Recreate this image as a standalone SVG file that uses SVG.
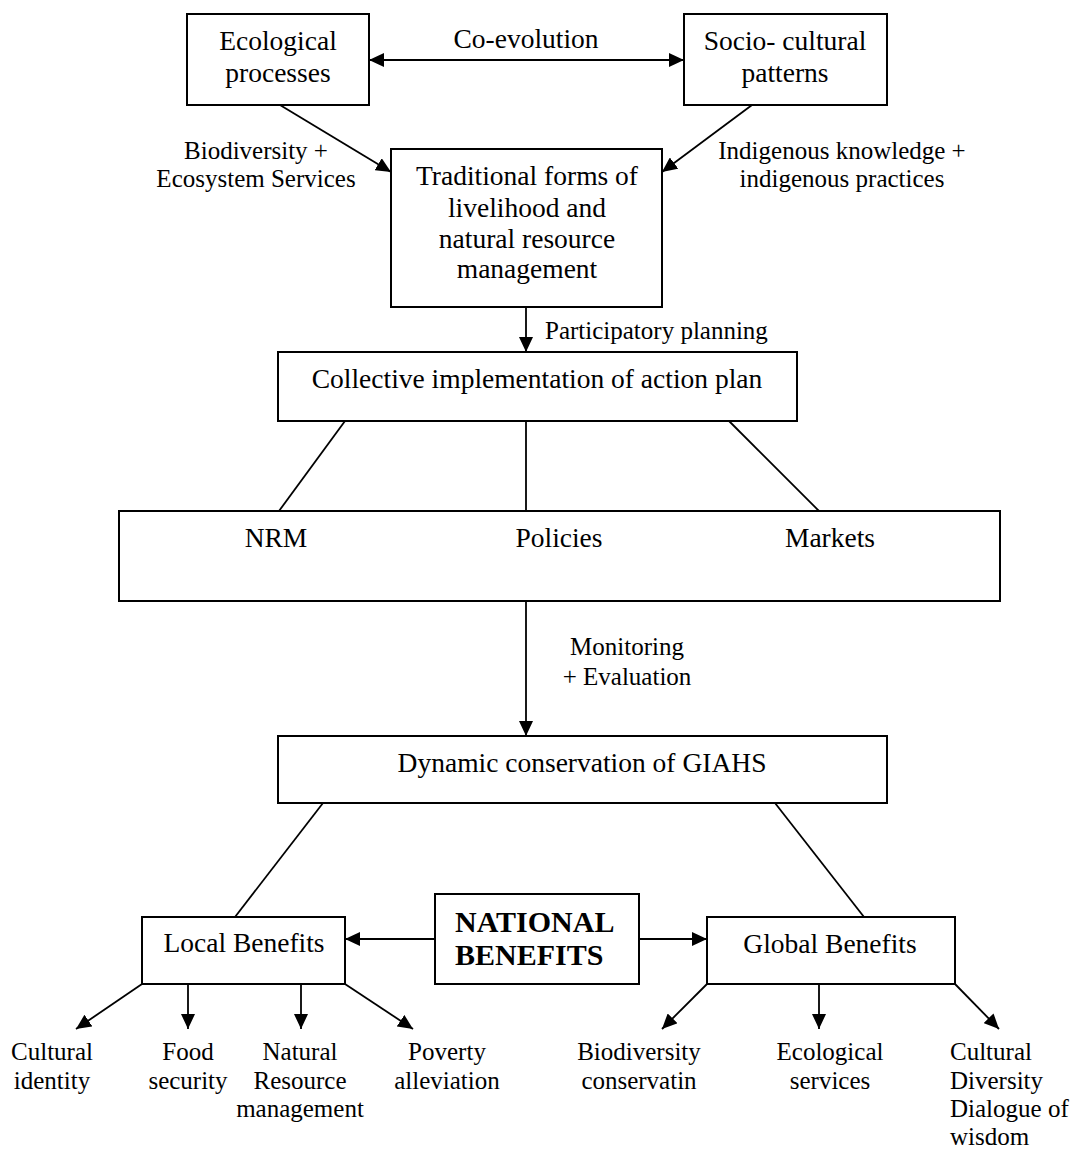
<svg xmlns="http://www.w3.org/2000/svg" width="1075" height="1150" viewBox="0 0 1075 1150">
<style>
.bx{fill:#fff;stroke:#000;stroke-width:2}
.ln{fill:none;stroke:#000;stroke-width:1.8}
.ar{marker-end:url(#ah)}
.t{font-family:"Liberation Serif","Times New Roman",serif;font-size:27.5px;fill:#000;text-anchor:middle}
.l{font-family:"Liberation Serif","Times New Roman",serif;font-size:25px;fill:#000;text-anchor:middle}
.s{text-anchor:start}
.b{font-family:"Liberation Serif","Times New Roman",serif;font-size:30px;font-weight:bold;fill:#000}
</style>
<defs>
<marker id="ah" viewBox="0 0 15 14" refX="15" refY="7" markerWidth="15" markerHeight="14" orient="auto-start-reverse" markerUnits="userSpaceOnUse">
<path d="M0,0 L15,7 L0,14 z" fill="#000"/>
</marker>
</defs>
<rect width="1075" height="1150" fill="#fff"/>
<g id="connectors">
<line class="ln ar" x1="369" y1="60" x2="684" y2="60" marker-start="url(#ah)"/>
<line class="ln ar" x1="280" y1="105" x2="391" y2="172"/>
<line class="ln ar" x1="752" y1="105" x2="662" y2="172"/>
<line class="ln ar" x1="526" y1="307" x2="526" y2="352"/>
<line class="ln" x1="345" y1="421" x2="279" y2="511"/>
<line class="ln" x1="526" y1="421" x2="526" y2="511"/>
<line class="ln" x1="729" y1="421" x2="819" y2="511"/>
<line class="ln ar" x1="526" y1="601" x2="526" y2="736"/>
<line class="ln" x1="323" y1="803" x2="235" y2="917"/>
<line class="ln" x1="775" y1="803" x2="864" y2="917"/>
<line class="ln ar" x1="435" y1="939" x2="345" y2="939"/>
<line class="ln ar" x1="639" y1="939" x2="707" y2="939"/>
<line class="ln ar" x1="142" y1="984" x2="76" y2="1029"/>
<line class="ln ar" x1="188" y1="984" x2="188" y2="1029"/>
<line class="ln ar" x1="301" y1="984" x2="301" y2="1029"/>
<line class="ln ar" x1="345" y1="984" x2="413" y2="1029"/>
<line class="ln ar" x1="707" y1="984" x2="662" y2="1029"/>
<line class="ln ar" x1="819" y1="984" x2="819" y2="1029"/>
<line class="ln ar" x1="955" y1="984" x2="999" y2="1029"/>
</g>
<g id="edge-labels">
<text class="t" x="526" y="48">Co-evolution</text>
<text class="l" x="256" y="159">Biodiversity +</text>
<text class="l" x="256" y="187">Ecosystem Services</text>
<text class="l" x="842" y="159">Indigenous knowledge +</text>
<text class="l" x="842" y="187">indigenous practices</text>
<text class="l s" x="545" y="339">Participatory planning</text>
<text class="l" x="627" y="655">Monitoring</text>
<text class="l" x="627" y="685">+ Evaluation</text>
</g>
<g id="ecological">
<rect class="bx" x="187" y="14" width="182" height="91"/>
<text class="t" x="278" y="50">Ecological</text>
<text class="t" x="278" y="82">processes</text>
</g>
<g id="sociocultural">
<rect class="bx" x="684" y="14" width="203" height="91"/>
<text class="t" x="785" y="50">Socio- cultural</text>
<text class="t" x="785" y="82">patterns</text>
</g>
<g id="traditional">
<rect class="bx" x="391" y="149" width="271" height="158"/>
<text class="t" x="527" y="185">Traditional forms of</text>
<text class="t" x="527" y="217">livelihood and</text>
<text class="t" x="527" y="248">natural resource</text>
<text class="t" x="527" y="278">management</text>
</g>
<g id="collective">
<rect class="bx" x="278" y="352" width="519" height="69"/>
<text class="t" x="537" y="388">Collective implementation of action plan</text>
</g>
<g id="nrm-policies-markets">
<rect class="bx" x="119" y="511" width="881" height="90"/>
<text class="t" x="276" y="547">NRM</text>
<text class="t" x="559" y="547">Policies</text>
<text class="t" x="830" y="547">Markets</text>
</g>
<g id="dynamic">
<rect class="bx" x="278" y="736" width="609" height="67"/>
<text class="t" x="582" y="772">Dynamic conservation of GIAHS</text>
</g>
<g id="local">
<rect class="bx" x="142" y="917" width="203" height="67"/>
<text class="t" x="244" y="952">Local Benefits</text>
</g>
<g id="national">
<rect class="bx" x="435" y="894" width="204" height="90"/>
<text class="b" x="455" y="932">NATIONAL</text>
<text class="b" x="455" y="965">BENEFITS</text>
</g>
<g id="global">
<rect class="bx" x="707" y="917" width="248" height="67"/>
<text class="t" x="830" y="953">Global Benefits</text>
</g>
<g id="cultural-identity">
<text class="l" x="52" y="1060">Cultural</text>
<text class="l" x="52" y="1089">identity</text>
</g>
<g id="food-security">
<text class="l" x="188" y="1060">Food</text>
<text class="l" x="188" y="1089">security</text>
</g>
<g id="nrm-label">
<text class="l" x="300" y="1060">Natural</text>
<text class="l" x="300" y="1089">Resource</text>
<text class="l" x="300" y="1117">management</text>
</g>
<g id="poverty">
<text class="l" x="447" y="1060">Poverty</text>
<text class="l" x="447" y="1089">alleviation</text>
</g>
<g id="biodiversity">
<text class="l" x="639" y="1060">Biodiversity</text>
<text class="l" x="639" y="1089">conservatin</text>
</g>
<g id="ecological-services">
<text class="l" x="830" y="1060">Ecological</text>
<text class="l" x="830" y="1089">services</text>
</g>
<g id="cultural-diversity">
<text class="l s" x="950" y="1060">Cultural</text>
<text class="l s" x="950" y="1089">Diversity</text>
<text class="l s" x="950" y="1117">Dialogue of</text>
<text class="l s" x="950" y="1145">wisdom</text>
</g>
</svg>
